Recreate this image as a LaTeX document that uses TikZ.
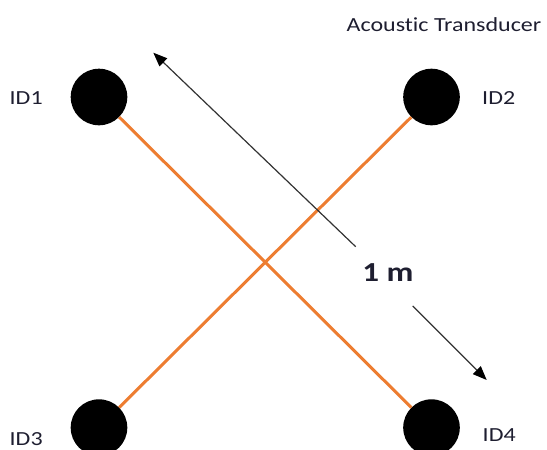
\documentclass[tikz,border=0pt]{standalone}
\usepackage{fontspec}
\setmainfont{Carlito}[FakeStretch=1.2,Ligatures=NoCommon]
\usetikzlibrary{arrows.meta}
\definecolor{linkorange}{HTML}{ED7D31}
\definecolor{labelink}{HTML}{1E1E30}
\begin{document}
\begin{tikzpicture}[x=1pt,y=-1pt,
  transducer/.style={circle,fill=black,minimum size=56.6pt,inner sep=0pt},
  idlabel/.style={text=labelink,font=\fontsize{20}{24}\selectfont,inner sep=0pt},
  link/.style={draw=linkorange,line width=3pt},
  span/.style={draw=black!80,line width=1.2pt,-{Triangle[length=14pt,width=11pt,color=black]}}]
\useasboundingbox (0,0) rectangle (547,450);
% transducers at the four corners
\node[transducer] (t1) at (99,97) {};
\node[transducer] (t2) at (431.5,97) {};
\node[transducer] (t3) at (99,427.6) {};
\node[transducer] (t4) at (431.5,427.6) {};
% labels
\node[idlabel,anchor=west] (l1) at (9.5,98.5) {ID1};
\node[idlabel,anchor=west] (l2) at (482,98.5) {ID2};
\node[idlabel,anchor=west] (l3) at (9.5,439) {ID3};
\node[idlabel,anchor=west] (l4) at (482.5,435) {ID4};
\node[idlabel,anchor=west] (title) at (346.5,24.5) {Acoustic Transducer};
% diagonal links
\draw[link] (t1) -- (t4);
\draw[link] (t2) -- (t3);
% distance annotation
\node[font=\fontsize{27.5}{30}\selectfont\bfseries,text=labelink,inner sep=0pt] (dist) at (388,273) {1 m};
\coordinate (a1s) at (355.7,246.7);
\coordinate (a1e) at (153.3,52.7);
\coordinate (a2s) at (412.7,306);
\coordinate (a2e) at (486.7,380);
\draw[span] (a1s) -- (a1e);
\draw[span] (a2s) -- (a2e);
\end{tikzpicture}
\end{document}
